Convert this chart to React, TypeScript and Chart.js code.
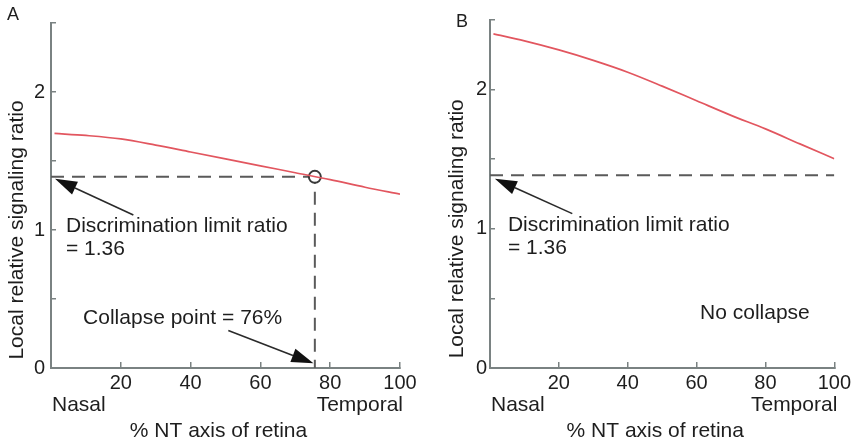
import { useEffect, useRef } from 'react';
import { Chart, registerables } from 'chart.js';

Chart.register(...registerables);

const FONT = '"Liberation Sans", Arial, Helvetica, sans-serif';

// ---- data ----
const nasalTemporalPositions = [1, 10, 20, 30, 40, 50, 60, 70, 80, 90, 100];
const signalingRatioA = [1.70, 1.685, 1.66, 1.615, 1.565, 1.515, 1.465, 1.415, 1.365, 1.31, 1.26];
const signalingRatioB = [2.40, 2.35, 2.285, 2.21, 2.125, 2.025, 1.92, 1.815, 1.718, 1.61, 1.503];
const discriminationLimit = 1.385;
const collapsePointA = 75.6;
const xTickValues = [0, 20, 40, 60, 80, 100];
const xTickLabels = ['', '20', '40', '60', '80', '100'];
const yTickValues = [0, 0.5, 1, 1.5, 2, 2.5];
const yTickLabels = ['0', '', '1', '', '2', ''];

const textsA = [
  { text: 'Discrimination limit ratio', x: 4.3, y: 1.025 },
  { text: '= 1.36', x: 4.3, y: 0.86 },
  { text: 'Collapse point = 76%', x: 9.2, y: 0.358 },
];
const arrowsA = [
  { from: [23.6, 1.109], to: [1.15, 1.371] },
  { from: [50.8, 0.272], to: [75.2, 0.034] },
];
const textsB = [
  { text: 'Discrimination limit ratio', x: 5.2, y: 1.025 },
  { text: '= 1.36', x: 5.2, y: 0.86 },
  { text: 'No collapse', x: 61, y: 0.394 },
];
const arrowsB = [{ from: [23.9, 1.109], to: [1.43, 1.36] }];

const RED = '#e2565f';
const DASH = '#5a5a5a';
const AXIS = '#7a8282';
const TEXT = '#1e1e1e';

const annotPlugin = {
  id: 'annot',
  afterDatasetsDraw(chart: any, _args: any, opts: any) {
    const { ctx, chartArea } = chart;
    const xs = chart.scales.x;
    const ys = chart.scales.y;
    ctx.save();
    ctx.fillStyle = TEXT;
    ctx.font = `21px ${FONT}`;
    ctx.textAlign = 'left';
    ctx.textBaseline = 'middle';
    for (const t of opts.texts || []) {
      ctx.fillText(t.text, xs.getPixelForValue(t.x), ys.getPixelForValue(t.y));
    }
    // arrows
    ctx.strokeStyle = '#2a2a2a';
    ctx.fillStyle = '#111';
    ctx.lineWidth = 1.6;
    for (const a of opts.arrows || []) {
      const x1 = xs.getPixelForValue(a.from[0]);
      const y1 = ys.getPixelForValue(a.from[1]);
      const x2 = xs.getPixelForValue(a.to[0]);
      const y2 = ys.getPixelForValue(a.to[1]);
      const ang = Math.atan2(y2 - y1, x2 - x1);
      const L = 22;
      const W = 7;
      const bx = x2 - L * Math.cos(ang);
      const by = y2 - L * Math.sin(ang);
      ctx.beginPath();
      ctx.moveTo(x1, y1);
      ctx.lineTo(bx, by);
      ctx.stroke();
      ctx.beginPath();
      ctx.moveTo(x2, y2);
      ctx.lineTo(bx + W * Math.sin(ang), by - W * Math.cos(ang));
      ctx.lineTo(bx - W * Math.sin(ang), by + W * Math.cos(ang));
      ctx.closePath();
      ctx.fill();
    }
    ctx.fillStyle = TEXT;
    // end labels under the axis
    ctx.textAlign = 'left';
    ctx.fillText('Nasal', xs.getPixelForValue(0) + 1, chartArea.bottom + 37);
    ctx.textAlign = 'right';
    ctx.fillText('Temporal', xs.getPixelForValue(100) + 3, chartArea.bottom + 37);
    // x title
    ctx.textAlign = 'center';
    ctx.fillText('% NT axis of retina', xs.getPixelForValue(48), chartArea.bottom + 63);
    // y title
    ctx.save();
    ctx.translate(chartArea.left - opts.yTitleOffset, ys.getPixelForValue(1));
    ctx.rotate(-Math.PI / 2);
    ctx.textAlign = 'center';
    ctx.fillText('Local relative signaling ratio', 0, 0);
    ctx.restore();
    // panel letter
    ctx.font = `18px ${FONT}`;
    ctx.textAlign = 'left';
    ctx.fillText(opts.letter, opts.letterX, opts.letterY);
    ctx.restore();
  },
};

function makeConfig(panel: 'A' | 'B'): any {
  const ratio = panel === 'A' ? signalingRatioA : signalingRatioB;
  const datasets: any[] = [
    {
      data: nasalTemporalPositions.map((x, i) => ({ x, y: ratio[i] })),
      borderColor: RED,
      borderWidth: 1.7,
      pointRadius: 0,
      cubicInterpolationMode: 'monotone',
      order: 1,
    },
  ];
  if (panel === 'A') {
    datasets.push(
      {
        data: [{ x: collapsePointA, y: discriminationLimit }],
        showLine: false,
        pointRadius: 6,
        pointBorderWidth: 2,
        pointBorderColor: '#3a3a3a',
        pointBackgroundColor: '#ffffff',
        order: 2,
      },
      {
        data: [
          { x: 0, y: discriminationLimit },
          { x: collapsePointA, y: discriminationLimit },
        ],
        borderColor: DASH,
        borderWidth: 2,
        borderDash: [13, 8],
        pointRadius: 0,
        order: 3,
      },
      {
        data: [
          { x: collapsePointA, y: discriminationLimit },
          { x: collapsePointA, y: 0 },
        ],
        borderColor: DASH,
        borderWidth: 2,
        borderDash: [13, 8],
        borderDashOffset: 6,
        pointRadius: 0,
        order: 3,
      }
    );
  } else {
    datasets.push({
      data: [
        { x: 0, y: discriminationLimit },
        { x: 100, y: discriminationLimit },
      ],
      borderColor: DASH,
      borderWidth: 2,
      borderDash: [13, 8],
      pointRadius: 0,
      order: 3,
    });
  }
  const yAxisWidth = panel === 'A' ? 51 : 60;
  return {
    type: 'line',
    data: { datasets },
    plugins: [annotPlugin],
    options: {
      responsive: false,
      animation: false,
      devicePixelRatio: 1,
      layout: { padding: { left: 0, right: panel === 'A' ? 30 : 21, top: panel === 'A' ? 18 : 19, bottom: 0 } },
      plugins: {
        legend: { display: false },
        tooltip: { enabled: false },
        annot: {
          texts: panel === 'A' ? textsA : textsB,
          arrows: panel === 'A' ? arrowsA : arrowsB,
          yTitleOffset: panel === 'A' ? 34 : 33,
          letter: panel,
          letterX: panel === 'A' ? 7 : 26,
          letterY: panel === 'A' ? 15 : 22,
        },
      },
      scales: {
        x: {
          type: 'linear',
          min: 0,
          max: 100,
          afterBuildTicks: (s: any) => {
            s.ticks = xTickValues.map((v) => ({ value: v }));
          },
          afterFit: (s: any) => {
            s.height = 78;
          },
          ticks: {
            callback: (v: any) => {
              const i = xTickValues.indexOf(Number(v));
              return i >= 0 ? xTickLabels[i] : '';
            },
            font: { size: 20, family: FONT },
            color: TEXT,
            padding: 9,
            maxRotation: 0,
            autoSkip: false,
          },
          grid: { drawOnChartArea: false, drawTicks: true, tickLength: -6, color: AXIS, lineWidth: 1.5 },
          border: { color: AXIS, width: 2 },
        },
        y: {
          type: 'linear',
          min: 0,
          max: 2.5,
          afterBuildTicks: (s: any) => {
            s.ticks = yTickValues.map((v) => ({ value: v }));
          },
          afterFit: (s: any) => {
            s.width = yAxisWidth;
          },
          ticks: {
            callback: (v: any) => {
              const i = yTickValues.indexOf(Number(v));
              return i >= 0 ? yTickLabels[i] : '';
            },
            font: { size: 20, family: FONT },
            color: TEXT,
            padding: panel === 'A' ? 11 : 8,
            autoSkip: false,
          },
          grid: { drawOnChartArea: false, drawTicks: true, tickLength: -5, color: AXIS, lineWidth: 1.5 },
          border: { color: AXIS, width: 2 },
        },
      },
    },
  };
}

function Panel({ panel }: { panel: 'A' | 'B' }) {
  const ref = useRef<HTMLCanvasElement | null>(null);
  useEffect(() => {
    if (!ref.current) return;
    const chart = new Chart(ref.current, makeConfig(panel));
    return () => chart.destroy();
  }, [panel]);
  return <canvas ref={ref} width={430} height={446} style={{ display: 'block', width: 430, height: 446 }} />;
}

export default function App() {
  return (
    <div
      style={{
        position: 'absolute',
        left: 0,
        top: 0,
        width: 860,
        height: 446,
        display: 'flex',
        background: '#ffffff',
      }}
    >
      <Panel panel="A" />
      <Panel panel="B" />
    </div>
  );
}
